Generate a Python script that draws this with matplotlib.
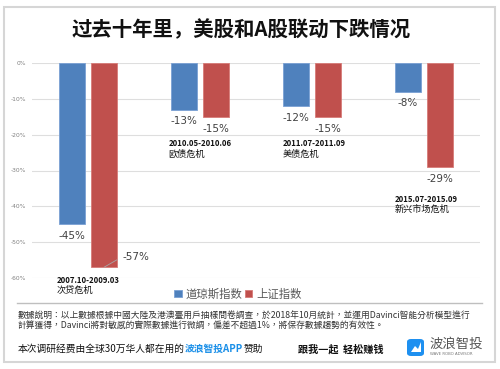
import matplotlib.pyplot as plt
import matplotlib.patches as mpatches
import numpy as np

plt.rcParams['font.family'] = ['Noto Sans CJK SC', 'DejaVu Sans']

# 数据
periods = ['2007.10-2009.03', '2010.05-2010.06', '2011.07-2011.09', '2015.07-2015.09']
crises = ['次贷危机', '欧债危机', '美债危机', '新兴市场危机']
dow = [-45, -13, -12, -8]        # 道琼斯指数
sse = [-57, -15, -15, -29]       # 上证指数
yticks = [0, -10, -20, -30, -40, -50, -60]
note_y = [-60.6, -22.6, -22.6, -38.0]   # 危机说明文字（日期行）的纵向位置

BLUE = '#4f81bd'
RED = '#c0504d'

W, H = 500, 369
fig = plt.figure(figsize=(W / 100, H / 100), dpi=100)


def fx(px):
    return px / W


def fy(py):
    return 1 - py / H


# 外框
fig.add_artist(mpatches.Rectangle((fx(4), fy(362)), fx(491), 355 / H, transform=fig.transFigure,
                                  fill=False, edgecolor='#d6d6d6', linewidth=1.5))

fig.text(fx(241), fy(30), '过去十年里，美股和A股联动下跌情况', ha='center', va='center',
         fontsize=14.7, fontweight='bold', color='#111111')

ax = fig.add_axes([fx(32), fy(278), fx(448), 215 / H])
x = np.arange(len(dow))
off = 0.143
bw = 0.232
b1 = ax.bar(x - off, dow, bw, color=BLUE, edgecolor='#7aa0d4', linewidth=0.6, label='道琼斯指数', zorder=2)
b2 = ax.bar(x + off, sse, bw, color=RED, edgecolor='#d77b78', linewidth=0.6, label='上证指数', zorder=2)

ax.set_xlim(-0.5, 3.5)
ax.set_ylim(-60, 0)
ax.set_yticks(yticks)
ax.set_yticklabels([f'{t}%' for t in yticks], fontsize=4.3, color='#808080', family='DejaVu Sans')
ax.tick_params(axis='y', length=0, pad=4)
ax.set_xticks([])
ax.grid(axis='y', color='#dedede', linewidth=0.8, zorder=0)
for s in ax.spines.values():
    s.set_visible(False)

# 数据标签
for i in range(len(dow)):
    ax.annotate(f'{dow[i]}%', (x[i] - off, dow[i]), xytext=(0, -8.5), textcoords='offset points',
                ha='center', va='center', fontsize=7.5, color='#404040', family='DejaVu Sans')
    if i == 0:
        ax.annotate(f'{sse[i]}%', (x[i] + off, sse[i]), xytext=(13, 7.5), textcoords='offset points',
                    ha='left', va='center', fontsize=7.5, color='#404040', family='DejaVu Sans',
                    arrowprops=dict(arrowstyle='-', color='#a6a6a6', lw=0.6, shrinkA=2, shrinkB=0,
                                    relpos=(0, 0.5)))
    else:
        ax.annotate(f'{sse[i]}%', (x[i] + off, sse[i]), xytext=(0, -8.5), textcoords='offset points',
                    ha='center', va='center', fontsize=7.5, color='#404040', family='DejaVu Sans')
    lx = x[i] - off - bw / 2 - (0.025 if i < 2 else 0)
    ax.annotate(periods[i], (lx, note_y[i]), ha='left', va='center', fontsize=5.6,
                color='#111111', fontweight='bold', annotation_clip=False)
    ax.annotate(crises[i], (lx, note_y[i]), xytext=(0, -7.5), textcoords='offset points',
                ha='left', va='center', fontsize=6.6, color='#111111', annotation_clip=False)

leg = ax.legend(handles=[b1, b2], loc='center', bbox_to_anchor=(fx(238), fy(294)),
                bbox_transform=fig.transFigure, ncol=2, frameon=False, fontsize=8.2,
                handlelength=0.65, handleheight=0.65, handletextpad=0.35, columnspacing=0.2)
for t in leg.get_texts():
    t.set_color('#595959')

# 分隔线
fig.add_artist(plt.Line2D([fx(17), fx(482)], [fy(303), fy(303)], transform=fig.transFigure,
                          color='#bfbfbf', linewidth=1))

note1 = '數據說明：以上數據根據中國大陸及港澳臺用戶抽樣問卷調查，於2018年10月統計，並運用Davinci智能分析模型進行'
note2 = '計算獲得，Davinci將對敏感的實際數據進行微調，偏差不超過1%，將保存數據趨勢的有效性。'
fig.text(fx(18), fy(316), note1, ha='left', va='center', fontsize=6.3, color='#333333',
         family=['Noto Sans CJK TC', 'DejaVu Sans'])
fig.text(fx(18), fy(326), note2, ha='left', va='center', fontsize=6.3, color='#333333',
         family=['Noto Sans CJK TC', 'DejaVu Sans'])

# 底部赞助说明（分段着色）
fig.canvas.draw()
r = fig.canvas.get_renderer()
xpos = 18
for s, c, w in [('本次调研经费由全球30万华人都在用的', '#111111', 'normal'),
                ('波浪智投APP', '#1a8fe8', 'bold'),
                ('赞助', '#111111', 'normal')]:
    t = fig.text(fx(xpos), fy(349), s, ha='left', va='center', fontsize=7, color=c, fontweight=w)
    xpos = t.get_window_extent(r).x1

fig.text(fx(298), fy(349), '跟我一起  轻松赚钱', ha='left', va='center', fontsize=7.3,
         fontweight='bold', color='#111111')

# 标志
fig.add_artist(mpatches.FancyBboxPatch((fx(407), fy(356)), fx(17), 17 / H, transform=fig.transFigure,
                                       boxstyle='round,pad=0,rounding_size=0.008',
                                       facecolor='#1e90f0', edgecolor='none'))
fig.add_artist(mpatches.Polygon([(fx(411), fy(352)), (fx(415), fy(346)), (fx(418), fy(349)),
                                 (fx(421), fy(342)), (fx(421), fy(352))], closed=True,
                                transform=fig.transFigure, facecolor='white', edgecolor='none'))
fig.text(fx(430), fy(344), '波浪智投', ha='left', va='center', fontsize=9.6, color='#555555')
fig.text(fx(430), fy(354), 'WAVE ROBO ADVISOR', ha='left', va='center', fontsize=2.8,
         color='#777777', family='DejaVu Sans')

fig.savefig('out.png', dpi=100, facecolor='white')
